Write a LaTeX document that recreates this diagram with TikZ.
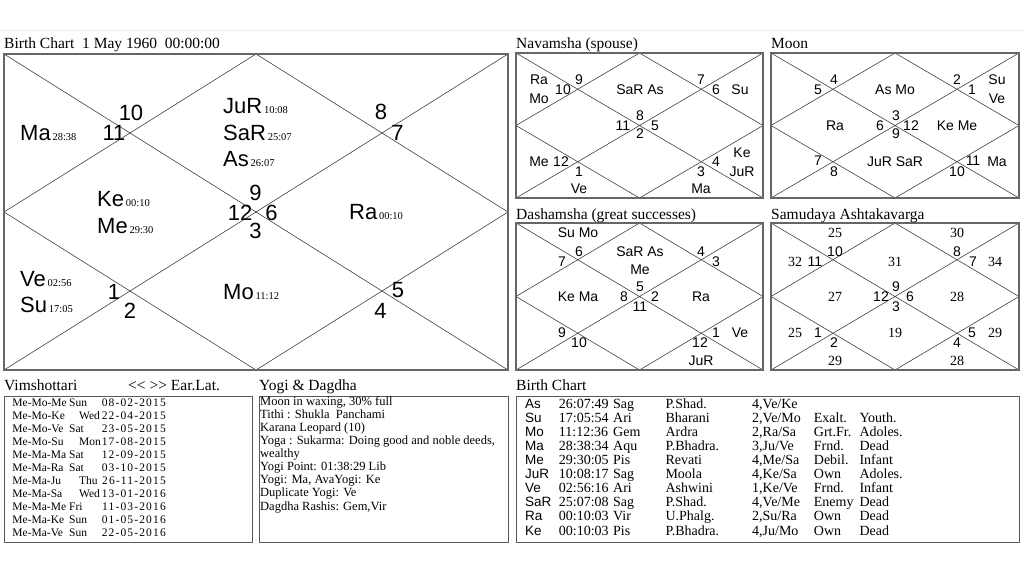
\documentclass[tikz,border=0pt]{standalone}
\usepackage{fontspec}
\setmainfont{Liberation Serif}
\setsansfont{Liberation Sans}
\newfontfamily\datefont[LetterSpace=10]{Liberation Serif}
\usepackage{tikz}
\newcommand{\degtxt}[1]{{\rmfamily\fontsize{10.5}{11}\selectfont\,#1}}

\begin{document}
\begin{tikzpicture}[x=1pt, y=-1pt,
  frame/.style={draw=black!60, line width=1.4pt},
  cross/.style={draw=black!75, line width=0.6pt},
  panel/.style={draw=black!65, line width=0.9pt},
  head/.style={anchor=base west, inner sep=0pt, font=\fontsize{15.5}{16}\selectfont},
  bignum/.style={inner sep=0pt, font=\sffamily\fontsize{22}{22}\selectfont},
  bigplanet/.style={anchor=base west, inner sep=0pt, font=\sffamily\fontsize{22}{22}\selectfont},
  lbl/.style={inner sep=0pt, font=\sffamily\fontsize{14}{14}\selectfont},
  pts/.style={inner sep=0pt, font=\fontsize{14}{14}\selectfont},
  vimrow/.style={anchor=base west, inner sep=0pt, font=\fontsize{11.5}{12}\selectfont},
  yogirow/.style={anchor=base west, inner sep=0pt, font=\fontsize{12.5}{13}\selectfont},
  tabrow/.style={anchor=base west, inner sep=0pt, font=\fontsize{14}{14}\selectfont},
  tabplanet/.style={anchor=base west, inner sep=0pt, font=\sffamily\fontsize{13.5}{14}\selectfont}]
  \useasboundingbox (0,0) rectangle (1024,576);
  % Faint strip at the top
  \draw[black!8, line width=1.5pt] (0,30.5) -- (1024,30.5);
  % Chart frames: box, diagonals and inner diamond
  \foreach \xa/\ya/\xb/\yb in {4/54/508/370, 516/53/763/198, 771/53/1019/198,
                               516/223/763/370, 771/223/1019/370} {
    \pgfmathsetmacro{\xm}{(\xa+\xb)/2}
    \pgfmathsetmacro{\ym}{(\ya+\yb)/2}
    \draw[cross] (\xa,\ya) -- (\xb,\yb) (\xa,\yb) -- (\xb,\ya);
    \draw[cross] (\xm,\ya) -- (\xb,\ym) -- (\xm,\yb) -- (\xa,\ym) -- cycle;
    \draw[frame] (\xa,\ya) rectangle (\xb,\yb);
  }
  % Titles
  \node[head] (mainTitle) at (4,48) {Birth Chart\ \ 1 May 1960\ \ 00:00:00};
  \node[head] (navTitle) at (516,48) {Navamsha (spouse)};
  \node[head] (moonTitle) at (771,48) {Moon};
  \node[head] (dashTitle) at (516,219) {Dashamsha (great successes)};
  \node[head] (samTitle) at (771,219) {Samudaya Ashtakavarga};
  \node[head] (vimTitle) at (4,390) {Vimshottari};
  \node[head] (vimNav) at (128,390) {<\kern0pt< >\kern0pt> Ear.Lat.};
  \node[head] (yogiTitle) at (259,390) {Yogi \& Dagdha};
  \node[head] (tabTitle) at (516,390) {Birth Chart};
  % Birth chart: sign numbers
  \foreach \x/\y/\t [count=\i] in {131/112.5/10, 114/133/11, 381/112/8, 397.5/133/7,
      255.5/192.5/9, 240/212.5/12, 271.5/212.5/6, 255.5/231/3,
      114/291.5/1, 130/311/2, 398/290.5/5, 380.5/311/4}
    \node[bignum] (mainS\i) at (\x,\y) {\t};
  % Birth chart: planets with degrees
  \foreach \x/\y/\p/\d [count=\i] in {223/113/JuR/10:08, 223/140/SaR/25:07,
      223/166/As/26:07, 20/140/Ma/28:38, 97/206.7/Ke/00:10, 97/233/Me/29:30,
      349/219/Ra/00:10, 20/286/Ve/02:56, 20/312.7/Su/17:05, 223/299/Mo/11:12}
    \node[bigplanet] (mainP\i) at (\x,\y) {\p\degtxt{\d}};
  % Navamsha
  \foreach \x/\y/\t [count=\i] in {539/80/Ra, 539/99/Mo, 563/90/10, 579/80/9,
      640/90/SaR As, 701/80/7, 716/90/6, 740/90/Su, 640/116/8, 623/126/11,
      655/126/5, 640/134/2, 539/162/Me, 561/162/12, 579/172/1, 579/189/Ve,
      742/153/Ke, 742/172/JuR, 716/162/4, 701/172/3, 701/189/Ma}
    \node[lbl] (nav\i) at (\x,\y) {\t};
  % Moon chart
  \foreach \x/\y/\t [count=\i] in {818/90/5, 834/80/4, 895/90/As Mo, 957/80/2,
      972/90/1, 997/80/Su, 997/99/Ve, 835/126/Ra, 880/126/6, 896/116/3,
      911/126/12, 896/134/9, 957/126/Ke Me, 818/161/7, 834/172/8,
      895/162/JuR SaR, 957/172/10, 973/161/11, 997/162/Ma}
    \node[lbl] (moon\i) at (\x,\y) {\t};
  % Dashamsha
  \foreach \x/\y/\t [count=\i] in {578/233/Su Mo, 562/262/7, 579/252/6,
      640/252/SaR As, 640/270/Me, 701/252/4, 716/262/3, 578/297/Ke Ma,
      624/297/8, 640/287/5, 655/297/2, 640/307/11, 701/297/Ra, 562/333/9,
      579/343/10, 700/343/12, 716/333/1, 740/333/Ve, 701/361/JuR}
    \node[lbl] (dash\i) at (\x,\y) {\t};
  % Samudaya Ashtakavarga: signs and points
  \foreach \x/\y/\t [count=\i] in {835/252/10, 815/262/11, 957/252/8, 973/262/7,
      881/297/12, 896/287/9, 910/297/6, 896/307/3, 818/333/1, 834/343/2,
      957/343/4, 972/333/5}
    \node[lbl] (samS\i) at (\x,\y) {\t};
  \foreach \x/\y/\t [count=\i] in {835/233/25, 957/233/30, 795/262/32, 895/262/31,
      995/262/34, 835/297/27, 957/297/28, 795/333/25, 895/333/19, 995/333/29,
      835/361/29, 957/361/28}
    \node[pts] (samP\i) at (\x,\y) {\t};
  % Bottom panels
  \draw[panel] (4,396) rectangle (252,542);
  \draw[panel] (259,396) rectangle (508,542);
  \draw[panel] (516,396) rectangle (1019,542);
  % Vimshottari periods
  \foreach \dasha/\dx/\dday/\ddate [count=\i] in {Me-Mo-Me/69/Sun/08-02-2015,
      Me-Mo-Ke/79/Wed/22-04-2015, Me-Mo-Ve/69/Sat/23-05-2015,
      Me-Mo-Su/79/Mon/17-08-2015, Me-Ma-Ma/69/Sat/12-09-2015,
      Me-Ma-Ra/69/Sat/03-10-2015, Me-Ma-Ju/79/Thu/26-11-2015,
      Me-Ma-Sa/79/Wed/13-01-2016, Me-Ma-Me/69/Fri/11-03-2016,
      Me-Ma-Ke/69/Sun/01-05-2016, Me-Ma-Ve/69/Sun/22-05-2016} {
    \node[vimrow] (vimD\i) at (12.3,{406.7+13*(\i-1)}) {\dasha};
    \node[vimrow] (vimW\i) at (\dx,{406.7+13*(\i-1)}) {\dday};
    \node[vimrow, anchor=base east] (vimT\i) at (166,{406.7+13*(\i-1)}) {\datefont\ddate};
  }
  % Yogi & Dagdha
  \foreach \ln [count=\i] in {{Moon in waxing, 30\% full}, {Tithi : Shukla\ \ Panchami},
      {Karana Leopard (10)}, {Yoga : Sukarma: Doing good and noble deeds,}, {wealthy},
      {Yogi Point: 01:38:29 Lib}, {Yogi: Ma, AvaYogi: Ke}, {Duplicate Yogi: Ve},
      {Dagdha Rashis: Gem,Vir}}
    \node[yogirow] (yogiL\i) at (260,{405.7+13.04*(\i-1)}) {\ln};
  % Planet table
  \foreach \pl/\pdeg/\psign/\pnak/\ppada/\pdig/\page [count=\i] in {
      As/26:07:49/Sag/P.Shad./{4,Ve/Ke}//,
      Su/17:05:54/Ari/Bharani/{2,Ve/Mo}/Exalt./Youth.,
      Mo/11:12:36/Gem/Ardra/{2,Ra/Sa}/Grt.Fr./Adoles.,
      Ma/28:38:34/Aqu/P.Bhadra./{3,Ju/Ve}/Frnd./Dead,
      Me/29:30:05/Pis/Revati/{4,Me/Sa}/Debil./Infant,
      JuR/10:08:17/Sag/Moola/{4,Ke/Sa}/Own/Adoles.,
      Ve/02:56:16/Ari/Ashwini/{1,Ke/Ve}/Frnd./Infant,
      SaR/25:07:08/Sag/P.Shad./{4,Ve/Me}/Enemy/Dead,
      Ra/00:10:03/Vir/U.Phalg./{2,Su/Ra}/Own/Dead,
      Ke/00:10:03/Pis/P.Bhadra./{4,Ju/Mo}/Own/Dead} {
    \pgfmathsetmacro{\rowy}{408.3+14.08*(\i-1)}
    \node[tabplanet] (tabP\i) at (525,\rowy) {\pl};
    \node[tabrow] (tabDeg\i) at (558.7,\rowy) {\pdeg};
    \node[tabrow] (tabSign\i) at (613,\rowy) {\psign};
    \node[tabrow] (tabNak\i) at (665.3,\rowy) {\pnak};
    \node[tabrow] (tabPada\i) at (752,\rowy) {\ppada};
    \node[tabrow] (tabDig\i) at (813.7,\rowy) {\pdig};
    \node[tabrow] (tabAge\i) at (859.3,\rowy) {\page};
  }
\end{tikzpicture}
\end{document}
